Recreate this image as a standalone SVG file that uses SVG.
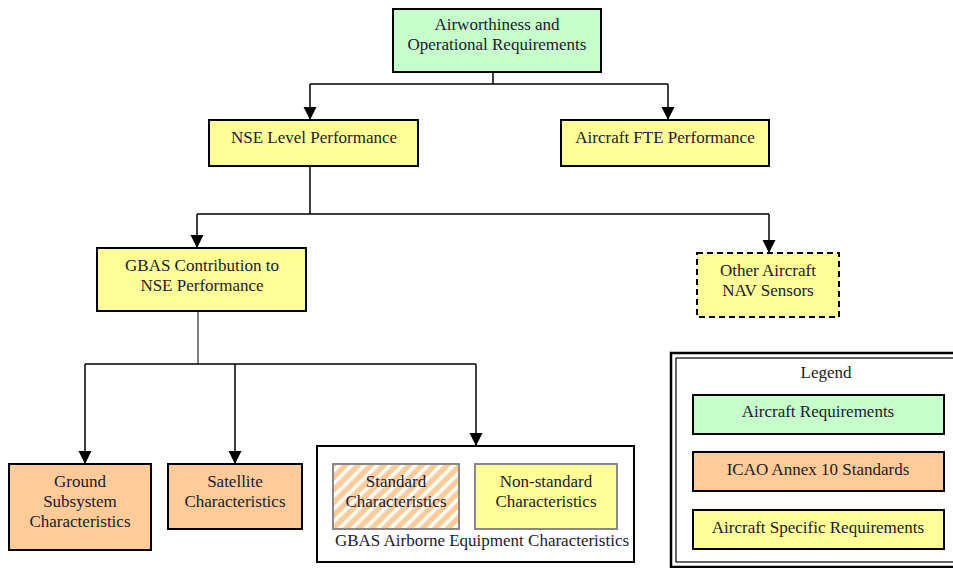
<svg xmlns="http://www.w3.org/2000/svg" width="953" height="568" viewBox="0 0 953 568">
<style>
.n{stroke:#000;stroke-width:2}
.g{fill:#c6ffcc}
.o{fill:#ffcc99}
.y{fill:#ffff99}
text{font-family:"Liberation Serif","Times New Roman",serif;font-size:17px;fill:#1a1a2e;text-anchor:middle}
.c{fill:none;stroke:#000;stroke-width:1.5}
</style>
<defs>
<marker id="ah" markerWidth="14" markerHeight="14" refX="13" refY="6.5" orient="auto" markerUnits="userSpaceOnUse">
<path d="M0,0 L13,6.5 L0,13 z" fill="#000"/>
</marker>
<pattern id="hatch" patternUnits="userSpaceOnUse" width="9" height="9" patternTransform="rotate(45)">
<rect width="9" height="9" fill="#ffcc99"/>
<rect width="3.5" height="9" fill="#ffffff"/>
</pattern>
</defs>
<g id="connectors">
<path class="c" d="M493,58 V84 M310,84 H668"/>
<path class="c" d="M310,84 V120" marker-end="url(#ah)"/>
<path class="c" d="M668,84 V120" marker-end="url(#ah)"/>
<path class="c" d="M310,152 V214 M197,214 H769"/>
<path class="c" d="M197,214 V248" marker-end="url(#ah)"/>
<path class="c" d="M769,214 V253" marker-end="url(#ah)"/>
<path d="M198,298 V364" stroke="#000" stroke-width="1" fill="none"/>
<path d="M85,364 H476" stroke="#000" stroke-width="1.5" fill="none"/>
<path class="c" d="M85,364 V464" marker-end="url(#ah)"/>
<path class="c" d="M235,364 V464" marker-end="url(#ah)"/>
<path class="c" d="M476,364 V446" marker-end="url(#ah)"/>
</g>
<g id="airworthiness">
<rect class="n g" x="393" y="9" width="208" height="63"/>
<text x="497" y="30">Airworthiness and</text>
<text x="497" y="50">Operational Requirements</text>
</g>
<g id="nse">
<rect class="n y" x="209" y="120" width="209" height="46"/>
<text x="314" y="143">NSE Level Performance</text>
</g>
<g id="fte">
<rect class="n y" x="561" y="120" width="208" height="46"/>
<text x="665" y="143">Aircraft FTE Performance</text>
</g>
<g id="gbas-contribution">
<rect class="n y" x="97" y="248" width="209" height="63"/>
<text x="202" y="271">GBAS Contribution to</text>
<text x="202" y="291">NSE Performance</text>
</g>
<g id="other-sensors">
<rect x="697" y="253" width="142" height="64" fill="#ffff99" stroke="#000" stroke-width="2" stroke-dasharray="6,4"/>
<text x="768" y="276">Other Aircraft</text>
<text x="768" y="296">NAV Sensors</text>
</g>
<g id="ground">
<rect class="n o" x="9" y="464" width="142" height="86"/>
<text x="80" y="487">Ground</text>
<text x="80" y="507">Subsystem</text>
<text x="80" y="527">Characteristics</text>
</g>
<g id="satellite">
<rect class="n o" x="168" y="464" width="134" height="65"/>
<text x="235" y="487">Satellite</text>
<text x="235" y="507">Characteristics</text>
</g>
<g id="airborne">
<rect x="317" y="446" width="317" height="116" fill="#fff" stroke="#000" stroke-width="2"/>
<text x="482" y="546">GBAS Airborne Equipment Characteristics</text>
<g id="standard">
<rect x="333" y="464" width="126" height="65" fill="url(#hatch)" stroke="#888" stroke-width="2"/>
<text x="396" y="487">Standard</text>
<text x="396" y="507">Characteristics</text>
</g>
<g id="nonstandard">
<rect x="475" y="464" width="142" height="65" fill="#ffff99" stroke="#888" stroke-width="2"/>
<text x="546" y="487">Non-standard</text>
<text x="546" y="507">Characteristics</text>
</g>
</g>
<g id="legend">
<rect x="671" y="353" width="290" height="214" fill="#fff" stroke="#000" stroke-width="2.5"/>
<rect x="676" y="358" width="280" height="204" fill="none" stroke="#000" stroke-width="1.2"/>
<text x="826" y="378">Legend</text>
<rect class="n g" x="693" y="395" width="251" height="39"/>
<text x="818" y="417">Aircraft Requirements</text>
<rect class="n o" x="693" y="452" width="251" height="39"/>
<text x="818" y="475">ICAO Annex 10 Standards</text>
<rect class="n y" x="693" y="510" width="251" height="39"/>
<text x="818" y="533">Aircraft Specific Requirements</text>
</g>
</svg>
